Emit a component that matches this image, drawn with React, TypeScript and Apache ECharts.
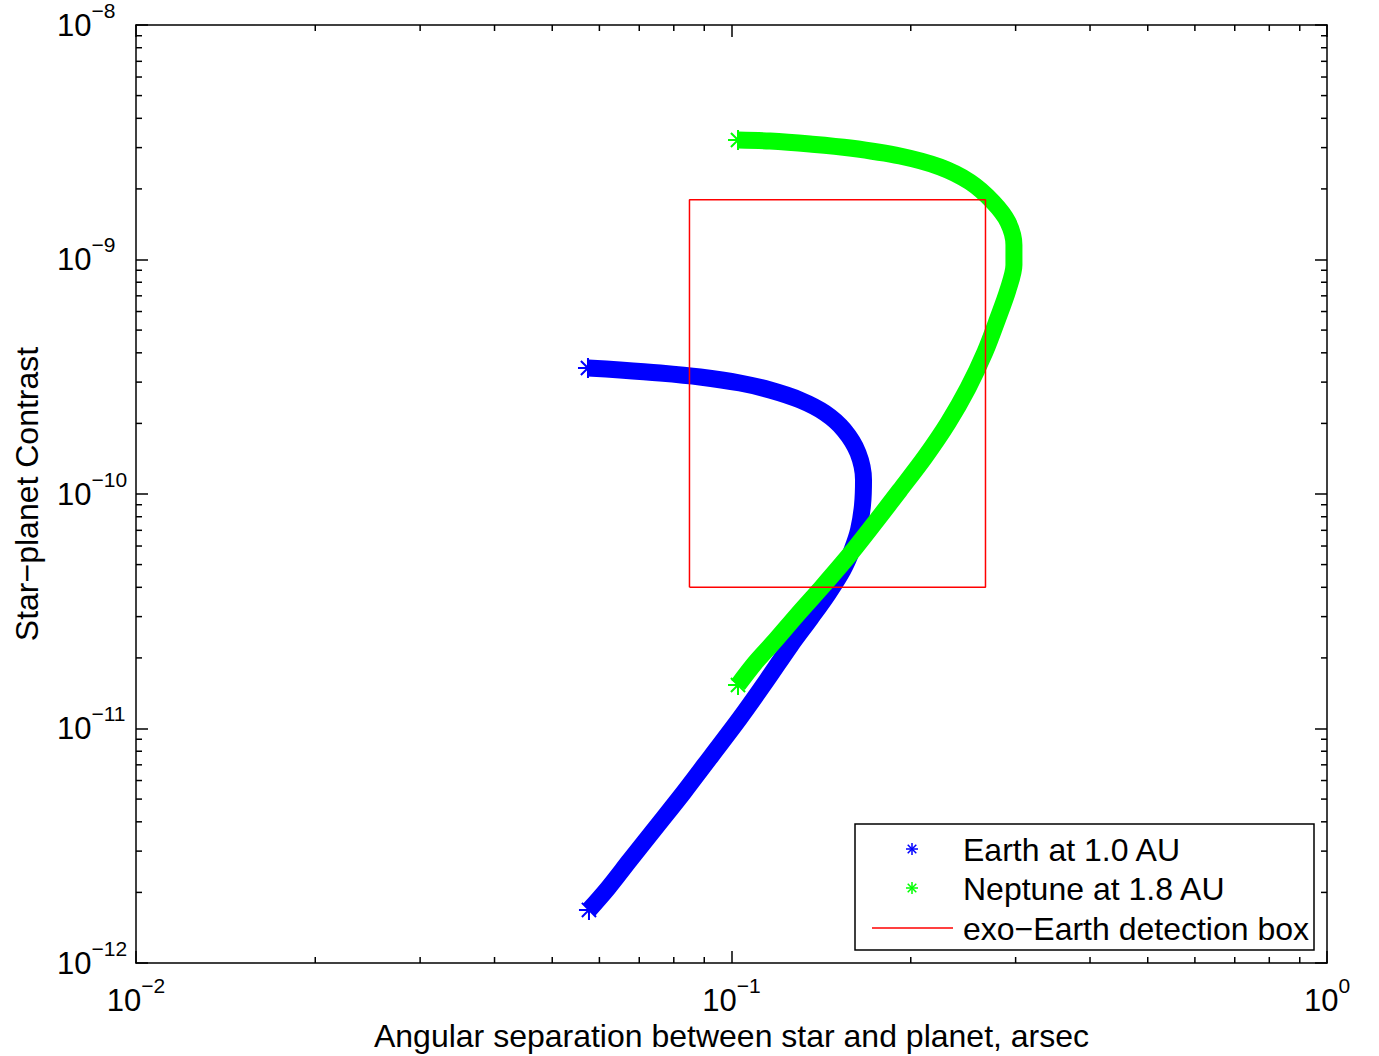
import React, { useEffect, useRef } from "react";
import * as echarts from "echarts";

// ---- data ----
const earthSep = [
  0.05741, 0.06498, 0.07585, 0.08854, 0.10334, 0.11606, 0.13031, 0.14355, 0.15449,
  0.16311, 0.16661, 0.16597, 0.16343, 0.15935, 0.15389, 0.14524, 0.13596, 0.12587,
  0.1147, 0.10334, 0.09274, 0.08322, 0.07498, 0.06754, 0.06204, 0.05763,
];
const earthContrast = [
  3.446e-10, 3.379e-10, 3.281e-10, 3.155e-10, 2.974e-10, 2.776e-10, 2.517e-10, 2.215e-10,
  1.875e-10, 1.496e-10, 1.148e-10, 8.975e-11, 7.024e-11, 5.77e-11, 4.743e-11, 3.747e-11,
  2.96e-11, 2.271e-11, 1.61e-11, 1.109e-11, 7.708e-12, 5.361e-12, 3.838e-12, 2.749e-12,
  2.088e-12, 1.683e-12,
];
const neptuneSep = [
  0.10255, 0.11606, 0.13543, 0.15812, 0.19186, 0.22393, 0.25148, 0.27482, 0.29122,
  0.29805, 0.29805, 0.29122, 0.28023, 0.2665, 0.24955, 0.23097, 0.21132, 0.19186,
  0.1755, 0.15874, 0.1419, 0.12931, 0.11741, 0.10951, 0.10255,
];
const neptuneContrast = [
  3.233e-9, 3.201e-9, 3.109e-9, 2.989e-9, 2.763e-9, 2.48e-9, 2.14e-9, 1.759e-9, 1.445e-9,
  1.153e-9, 9.475e-10, 7.414e-10, 5.631e-10, 4.032e-10, 2.832e-10, 2.008e-10, 1.438e-10,
  1.04e-10, 7.748e-11, 5.603e-11, 4.012e-11, 3.078e-11, 2.316e-11, 1.902e-11, 1.533e-11,
];
const boxSep = [0.085, 0.267, 0.267, 0.085, 0.085];
const boxContrast = [4.0e-11, 4.0e-11, 1.8e-9, 1.8e-9, 4.0e-11];

const xMinorTicks = [
  0.02, 0.03, 0.04, 0.05, 0.06, 0.07, 0.08, 0.09,
  0.2, 0.3, 0.4, 0.5, 0.6, 0.7, 0.8, 0.9,
];
const yMinorTicks = [
  2e-12, 3e-12, 4e-12, 5e-12, 6e-12, 7e-12, 8e-12, 9e-12,
  2e-11, 3e-11, 4e-11, 5e-11, 6e-11, 7e-11, 8e-11, 9e-11,
  2e-10, 3e-10, 4e-10, 5e-10, 6e-10, 7e-10, 8e-10, 9e-10,
  2e-9, 3e-9, 4e-9, 5e-9, 6e-9, 7e-9, 8e-9, 9e-9,
];
const seriesNames = ["Earth at 1.0 AU", "Neptune at 1.8 AU", "exo−Earth detection box"];
const xTitle = "Angular separation between star and planet, arsec";
const yTitle = "Star−planet Contrast";

const FONT = '"Liberation Sans", Arial, Helvetica, sans-serif';
const BLUE = "#0000ff";
const GREEN = "#00ff00";
const RED = "#ff0000";

const ASTERISK =
  "path://M-1,-10L1,-10L1,10L-1,10Z M-10,-1L10,-1L10,1L-10,1Z M-6.36,-7.78L7.78,6.36L6.36,7.78L-7.78,-6.36Z M-7.78,6.36L6.36,-7.78L7.78,-6.36L-6.36,7.78Z";

const richLabel = {
  b: { fontSize: 31, padding: [0, 0, 10, 0], verticalAlign: "bottom", fontFamily: FONT, color: "#000" },
  s: { fontSize: 21, padding: [0, 0, 30, 0], verticalAlign: "bottom", fontFamily: FONT, color: "#000" },
};
const powLabel = (v: number) => {
  const e = Math.round(Math.log10(v));
  return `{b|10}{s|${e < 0 ? "−" : ""}${Math.abs(e)}}`;
};

const curveData = (xs: number[], ys: number[]) =>
  xs.map((x, i) =>
    i === 0 || i === xs.length - 1 ? { value: [x, ys[i]] } : { value: [x, ys[i]], symbol: "none" }
  );

const legendAsterisk = (cx: number, cy: number, color: string) => ({
  type: "group",
  x: cx,
  y: cy,
  z: 11,
  children: [
    [0, -6, 0, 6],
    [-6, 0, 6, 0],
    [-4.3, -4.3, 4.3, 4.3],
    [-4.3, 4.3, 4.3, -4.3],
  ].map(([x1, y1, x2, y2]) => ({
    type: "line",
    shape: { x1, y1, x2, y2 },
    style: { stroke: color, lineWidth: 1.5 },
    z: 11,
  })),
});

export default function App() {
  const ref = useRef<HTMLDivElement>(null);

  useEffect(() => {
    if (!ref.current) return;
    const chart = echarts.init(ref.current, undefined, { renderer: "svg" });

    const axisCommonX = {
      type: "log",
      logBase: 10,
      min: 0.01,
      max: 1,
      splitLine: { show: false },
      axisLine: { show: true, onZero: false, lineStyle: { color: "#000", width: 1.5 } },
      axisTick: { show: true, inside: true, length: 12, lineStyle: { color: "#000", width: 1.5 } },
    };
    const axisCommonY = {
      type: "log",
      logBase: 10,
      min: 1e-12,
      max: 1e-8,
      splitLine: { show: false },
      axisLine: { show: true, onZero: false, lineStyle: { color: "#000", width: 1.5 } },
      axisTick: { show: true, inside: true, length: 12, lineStyle: { color: "#000", width: 1.5 } },
    };

    const tickLine = (x1: number, y1: number, x2: number, y2: number) => ({
      type: "line",
      shape: { x1, y1, x2, y2 },
      style: { stroke: "#000", lineWidth: 1.5 },
    });

    chart.setOption({
      animation: false,
      backgroundColor: "#fff",
      textStyle: { fontFamily: FONT },
      grid: { left: 136, right: 52, top: 25, bottom: 93, containLabel: false, outerBoundsMode: "none" },
      xAxis: [
        {
          ...axisCommonX,
          position: "bottom",
          axisLabel: { formatter: powLabel, rich: richLabel, margin: 11.5, color: "#000" },
          name: xTitle,
          nameLocation: "middle",
          nameGap: 57,
          nameTextStyle: { fontSize: 32, color: "#000", fontFamily: FONT, verticalAlign: "top" },
        },
        { ...axisCommonX, position: "top", axisLabel: { show: false } },
      ],
      yAxis: [
        {
          ...axisCommonY,
          position: "left",
          axisLabel: { formatter: powLabel, rich: richLabel, margin: 79, align: "left", color: "#000" },
          name: yTitle,
          nameLocation: "middle",
          nameGap: 93,
          nameTextStyle: { fontSize: 32, color: "#000", fontFamily: FONT },
        },
        { ...axisCommonY, position: "right", axisLabel: { show: false } },
      ],
      series: [
        {
          type: "line",
          name: seriesNames[0],
          xAxisIndex: 0,
          yAxisIndex: 0,
          data: curveData(earthSep, earthContrast),
          smooth: 0.3,
          symbol: ASTERISK,
          symbolSize: 20,
          showAllSymbol: true,
          lineStyle: { color: BLUE, width: 17 },
          itemStyle: { color: BLUE },
          z: 2,
        },
        {
          type: "line",
          name: seriesNames[1],
          xAxisIndex: 0,
          yAxisIndex: 0,
          data: curveData(neptuneSep, neptuneContrast),
          smooth: 0.3,
          symbol: ASTERISK,
          symbolSize: 20,
          showAllSymbol: true,
          lineStyle: { color: GREEN, width: 17 },
          itemStyle: { color: GREEN },
          z: 3,
        },
        {
          type: "line",
          name: seriesNames[2],
          xAxisIndex: 0,
          yAxisIndex: 0,
          data: boxSep.map((x, i) => [x, boxContrast[i]]),
          symbol: "none",
          lineStyle: { color: RED, width: 1.5 },
          z: 4,
        },
        {
          type: "custom",
          silent: true,
          xAxisIndex: 0,
          yAxisIndex: 0,
          data: xMinorTicks.map((v) => [v, 1e-10]),
          renderItem: (params: any, api: any) => {
            const p = api.coord([api.value(0), 1e-10]);
            const cs = params.coordSys;
            const bottom = cs.y + cs.height;
            return {
              type: "group",
              children: [tickLine(p[0], bottom, p[0], bottom - 6), tickLine(p[0], cs.y, p[0], cs.y + 6)],
            };
          },
          z: 5,
        },
        {
          type: "custom",
          silent: true,
          xAxisIndex: 0,
          yAxisIndex: 0,
          data: yMinorTicks.map((v) => [0.1, v]),
          renderItem: (params: any, api: any) => {
            const p = api.coord([0.1, api.value(1)]);
            const cs = params.coordSys;
            const right = cs.x + cs.width;
            return {
              type: "group",
              children: [tickLine(cs.x, p[1], cs.x + 6, p[1]), tickLine(right, p[1], right - 6, p[1])],
            };
          },
          z: 5,
        },
      ],
      graphic: [
        {
          type: "rect",
          shape: { x: 855, y: 824, width: 459, height: 126 },
          style: { fill: "#fff", stroke: "#000", lineWidth: 1.5 },
          z: 10,
        },
        legendAsterisk(912, 849, BLUE),
        legendAsterisk(912, 888, GREEN),
        {
          type: "line",
          shape: { x1: 872, y1: 928, x2: 953, y2: 928 },
          style: { stroke: RED, lineWidth: 1.5 },
          z: 11,
        },
        ...seriesNames.map((t, i) => ({
          type: "text",
          x: 963,
          y: [850, 889, 929][i],
          z: 11,
          style: { text: t, fontSize: 32, fontFamily: FONT, fill: "#000", verticalAlign: "middle", align: "left" },
        })),
      ],
    });

    return () => chart.dispose();
  }, []);

  return (
    <div
      ref={ref}
      style={{ position: "absolute", left: 0, top: 0, width: 1379, height: 1056, background: "#fff" }}
    />
  );
}
